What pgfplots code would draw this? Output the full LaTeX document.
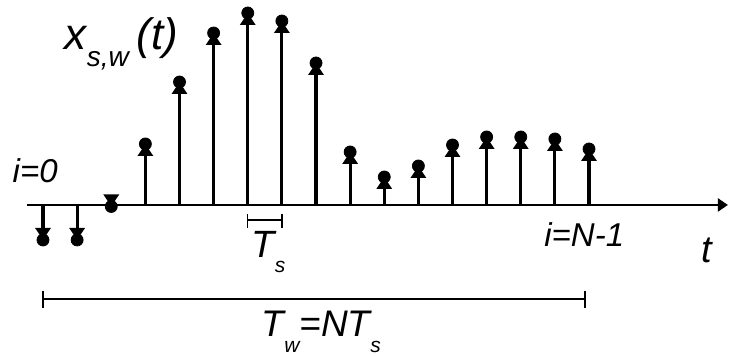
\documentclass[border=0pt]{standalone}
\usepackage{fontspec}
\setmainfont{Liberation Sans}
\usepackage{pgfplots}
\usepackage{pgfplotstable}
\pgfplotsset{compat=1.18}
\usetikzlibrary{arrows.meta}

% sample index, amplitude (zero base column for the stems)
\pgfplotstableread{
i  z  v
0  0  -35
1  0  -35
2  0  -1.5
3  0  61
4  0  123
5  0  172
6  0  192
7  0  184
8  0  142
9  0  53
10 0  28
11 0  39
12 0  60
13 0  68
14 0  68
15 0  66
16 0  56
}\samples

\begin{document}
\begin{tikzpicture}
\begin{axis}[
  scale only axis, width=364.5pt, height=178pt,
  xmin=-1.26, xmax=20.10, ymin=-151, ymax=205,
  hide axis, clip=false]
\path (rel axis cs:0,0) rectangle (rel axis cs:1,1);

% time axis
\draw[line width=1.1pt, -{Triangle[length=5pt,width=6.5pt]}] (axis cs:-0.47,0) -- (axis cs:20.07,0);

% stems with arrow heads
\addplot[black, line width=1.6pt, quiver={u=0, v=\thisrow{v}},
  -{Triangle[length=6pt,width=7.5pt]}] table[x=i, y=z] \samples;
% dots at the sample values
\addplot[black, only marks, mark=*, mark size=3pt] table[x=i, y=v] \samples;

% T_s bracket
\draw[line width=0.7pt] (axis cs:6,-15) -- (axis cs:7,-15);
\draw[line width=0.7pt] (axis cs:6,-9) -- (axis cs:6,-23);
\draw[line width=0.7pt] (axis cs:7,-9) -- (axis cs:7,-23);

% T_w bracket
\draw[line width=0.9pt] (axis cs:0,-94) -- (axis cs:15.88,-94);
\draw[line width=0.9pt] (axis cs:0,-86) -- (axis cs:0,-103);
\draw[line width=0.9pt] (axis cs:15.88,-86) -- (axis cs:15.88,-103);

\tikzset{lbl/.style={anchor=base west, inner sep=0pt}}
\node[lbl, font=\itshape\fontsize{22}{26}\selectfont] at (axis cs:0.63,155)
  {x\raisebox{-8.5pt}{\fontsize{14}{16}\selectfont s,w}\hspace{4pt}(t)};
\node[lbl, font=\itshape\fontsize{16.5}{19}\selectfont] at (axis cs:-0.9,22) {i=0};
\node[lbl, font=\itshape\fontsize{16.5}{19}\selectfont] at (axis cs:14.68,-42) {i=N-1};
\node[lbl, font=\itshape\fontsize{19}{22}\selectfont] at (axis cs:19.28,-58) {t};
\node[lbl, font=\itshape\fontsize{19}{22}\selectfont] at (axis cs:6.1,-53)
  {T\raisebox{-7.5pt}{\fontsize{10.5}{12}\selectfont s}};
\node[lbl, font=\itshape\fontsize{18.5}{22}\selectfont] at (axis cs:6.4,-132)
  {T\raisebox{-8pt}{\fontsize{10.5}{12}\selectfont w}=NT\raisebox{-8pt}{\fontsize{10.5}{12}\selectfont s}};
\end{axis}
\end{tikzpicture}
\end{document}
